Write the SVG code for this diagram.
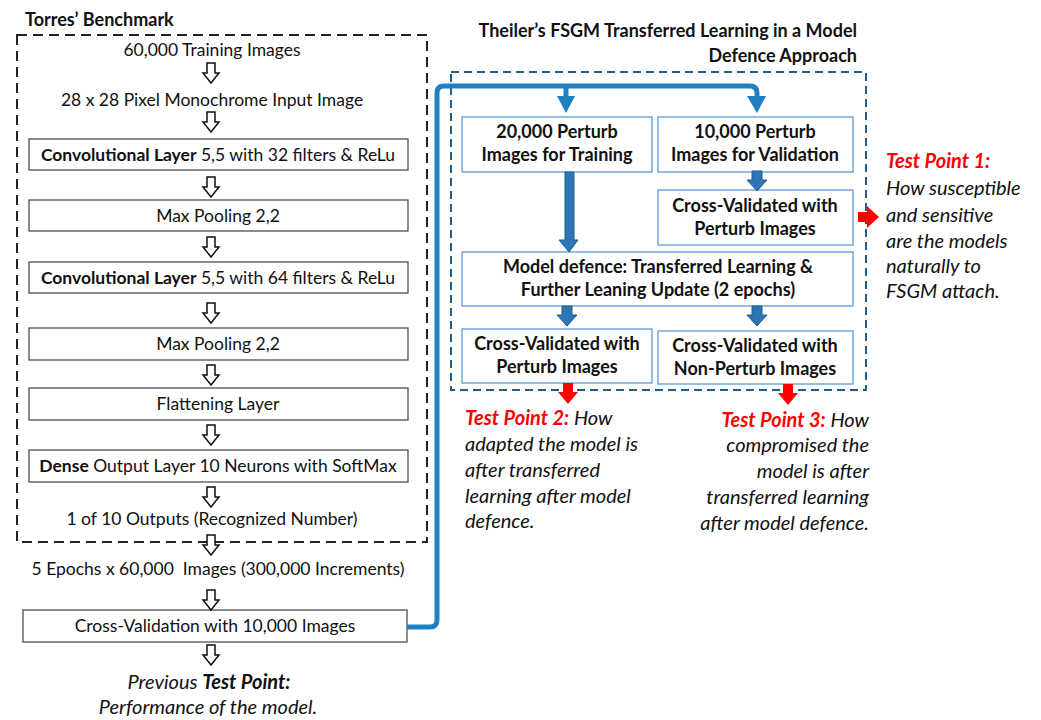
<svg xmlns="http://www.w3.org/2000/svg" xmlns:xlink="http://www.w3.org/1999/xlink" width="1041" height="720" viewBox="0 0 1041 720">
<style>
text{font-family:Lato,"Liberation Sans",sans-serif;fill:#111;}
.t{font-size:17.5px;text-anchor:middle;}
.b{font-weight:bold;}
.tb{font-size:18px;font-weight:bold;text-anchor:middle;}
.h{font-size:18px;font-weight:bold;}
.it{font-size:20px;font-style:italic;}
.red{fill:#ff0000;font-weight:bold;}
.box{fill:#fff;stroke:#404040;stroke-width:1.2;}
.bbox{fill:#fff;stroke:#5b9bd5;stroke-width:1.3;}
.ha{fill:#fff;stroke:#111;stroke-width:1.5;stroke-linejoin:miter;}
.ba{fill:#2e75b6;stroke:#1f5f8b;stroke-width:1;}
.ra{fill:#ff0000;}
</style>
<defs>
<path id="hol" d="M-4,0 H4 V10 H8 L0,20 L-8,10 H-4 Z"/>
<path id="bsm" d="M-5,0 H5 V9 H10 L0,20 L-10,9 H-5 Z"/>
</defs>
<rect width="1041" height="720" fill="#fff"/>

<g id="torres-frame">
<text class="h" x="25" y="26">Torres’ Benchmark</text>
<rect x="17" y="35" width="410" height="507" fill="none" stroke="#222" stroke-width="2" stroke-dasharray="10,6"/>
</g>

<g id="theiler-frame">
<text class="h" x="857" y="37" text-anchor="end">Theiler’s FSGM Transferred Learning in a Model</text>
<text class="h" x="857" y="62" text-anchor="end">Defence Approach</text>
<rect x="451" y="72" width="415" height="318" fill="none" stroke="#1f5f8b" stroke-width="2" stroke-dasharray="8,5"/>
</g>

<g id="n-training"><text class="t" x="212" y="56">60,000 Training Images</text></g>
<g id="n-input"><text class="t" x="212" y="106">28 x 28 Pixel Monochrome Input Image</text></g>
<g id="n-conv1"><rect class="box" x="29" y="139" width="379" height="31"/>
<text class="t" x="218" y="161"><tspan class="b">Convolutional Layer</tspan> 5,5 with 32 filters &amp; ReLu</text></g>
<g id="n-pool1"><rect class="box" x="29" y="200" width="379" height="31"/>
<text class="t" x="218" y="222">Max Pooling 2,2</text></g>
<g id="n-conv2"><rect class="box" x="29" y="262" width="379" height="31"/>
<text class="t" x="218" y="284"><tspan class="b">Convolutional Layer</tspan> 5,5 with 64 filters &amp; ReLu</text></g>
<g id="n-pool2"><rect class="box" x="29" y="328" width="379" height="32"/>
<text class="t" x="218" y="350">Max Pooling 2,2</text></g>
<g id="n-flat"><rect class="box" x="29" y="388" width="379" height="32"/>
<text class="t" x="218" y="410">Flattening Layer</text></g>
<g id="n-dense"><rect class="box" x="29" y="450" width="379" height="32"/>
<text class="t" x="218" y="472"><tspan class="b">Dense</tspan> Output Layer 10 Neurons with SoftMax</text></g>
<g id="n-outputs"><text class="t" x="212" y="525">1 of 10 Outputs (Recognized Number)</text></g>
<g id="n-epochs"><text class="t" x="218" y="575" xml:space="preserve">5 Epochs x 60,000  Images (300,000 Increments)</text></g>
<g id="n-crossval"><rect class="box" x="23" y="610" width="384" height="32"/>
<text class="t" x="215" y="632">Cross-Validation with 10,000 Images</text></g>
<g id="n-prev"><text class="it" x="209" y="689" text-anchor="middle">Previous <tspan class="b">Test Point:</tspan></text>
<text class="it" x="208" y="714" text-anchor="middle">Performance of the model.</text></g>

<g id="n-train20k"><rect class="bbox" x="462" y="117" width="190" height="55"/>
<text class="tb" x="557" y="138">20,000 Perturb</text>
<text class="tb" x="557" y="161">Images for Training</text></g>
<g id="n-val10k"><rect class="bbox" x="658" y="117" width="195" height="55"/>
<text class="tb" x="755" y="138">10,000 Perturb</text>
<text class="tb" x="755" y="161">Images for Validation</text></g>
<g id="n-cv1"><rect class="bbox" x="658" y="190" width="195" height="55"/>
<text class="tb" x="755" y="212">Cross-Validated with</text>
<text class="tb" x="755" y="235">Perturb Images</text></g>
<g id="n-defence"><rect class="bbox" x="462" y="252" width="391" height="54"/>
<text class="tb" x="658" y="273">Model defence: Transferred Learning &amp;</text>
<text class="tb" x="658" y="296">Further Leaning Update (2 epochs)</text></g>
<g id="n-cv2"><rect class="bbox" x="462" y="329" width="190" height="54"/>
<text class="tb" x="557" y="350">Cross-Validated with</text>
<text class="tb" x="557" y="373">Perturb Images</text></g>
<g id="n-cv3"><rect class="bbox" x="658" y="331" width="195" height="53"/>
<text class="tb" x="755" y="352">Cross-Validated with</text>
<text class="tb" x="755" y="375">Non-Perturb Images</text></g>

<g id="n-tp1">
<text class="it" x="886" y="168"><tspan class="red">Test Point 1:</tspan></text>
<text class="it" x="886" y="195">How susceptible</text>
<text class="it" x="886" y="222">and sensitive</text>
<text class="it" x="886" y="248">are the models</text>
<text class="it" x="886" y="273">naturally to</text>
<text class="it" x="886" y="298">FSGM attach.</text>
</g>
<g id="n-tp2">
<text class="it" x="465" y="425"><tspan class="red">Test Point 2:</tspan> How</text>
<text class="it" x="465" y="451">adapted the model is</text>
<text class="it" x="465" y="477">after transferred</text>
<text class="it" x="465" y="503">learning after model</text>
<text class="it" x="465" y="528">defence.</text>
</g>
<g id="n-tp3">
<text class="it" x="869" y="427" text-anchor="end"><tspan class="red">Test Point 3:</tspan> How</text>
<text class="it" x="869" y="452" text-anchor="end">compromised the</text>
<text class="it" x="869" y="478" text-anchor="end">model is after</text>
<text class="it" x="869" y="504" text-anchor="end">transferred learning</text>
<text class="it" x="869" y="530" text-anchor="end">after model defence.</text>
</g>

<g id="connectors">
<use xlink:href="#hol" class="ha" transform="translate(211,63)"/>
<use xlink:href="#hol" class="ha" transform="translate(211,112)"/>
<use xlink:href="#hol" class="ha" transform="translate(211,177)"/>
<use xlink:href="#hol" class="ha" transform="translate(211,237)"/>
<use xlink:href="#hol" class="ha" transform="translate(211,303)"/>
<use xlink:href="#hol" class="ha" transform="translate(211,365)"/>
<use xlink:href="#hol" class="ha" transform="translate(211,425)"/>
<use xlink:href="#hol" class="ha" transform="translate(211,487)"/>
<use xlink:href="#hol" class="ha" transform="translate(211,535)"/>
<use xlink:href="#hol" class="ha" transform="translate(211,590)"/>
<use xlink:href="#hol" class="ha" transform="translate(211,645)"/>

<path d="M407,627 H430 Q437,627 437,620 V93 Q437,86 444,86 H750 Q757,86 757,93 V98" fill="none" stroke="#1e7fc1" stroke-width="5"/>
<path d="M566,86 V98" fill="none" stroke="#1e7fc1" stroke-width="5"/>
<path d="M557,96 H575 L566,113 Z" fill="#1e7fc1"/>
<path d="M747,96 H766 L757,113 Z" fill="#1e7fc1"/>

<path class="ba" d="M565,172 H574 V240 H578 L569,252 L559,240 H565 Z"/>
<use xlink:href="#bsm" class="ba" transform="translate(757,171)"/>
<use xlink:href="#bsm" class="ba" transform="translate(567,306)"/>
<use xlink:href="#bsm" class="ba" transform="translate(757,306)"/>

<path class="ra" d="M563,383 H573 V392 H578 L568,404 L558,392 H563 Z"/>
<path class="ra" d="M783,384 H793 V393 H798 L788,405 L778,393 H783 Z"/>
<path class="ra" d="M858,212 H867 V206 L879,217 L867,228 V222 H858 Z"/>
</g>
</svg>
